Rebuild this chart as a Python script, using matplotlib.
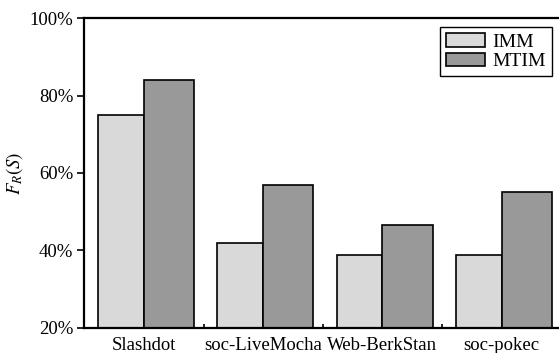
import numpy as np
import matplotlib.pyplot as plt
from matplotlib.ticker import FuncFormatter

plt.rcParams['font.family'] = ['Liberation Serif', 'DejaVu Serif']
plt.rcParams['mathtext.fontset'] = 'stix'

# datasets and F_R(S) values in percent
datasets = ['Slashdot', 'soc-LiveMocha', 'Web-BerkStan', 'soc-pokec']
imm = [75.0, 42.0, 38.7, 38.7]
mtim = [84.0, 56.8, 46.6, 55.0]

x = np.arange(len(datasets))

fig = plt.figure(figsize=(5.59, 3.53), dpi=100)
ax = fig.add_axes([0.1508, 0.0717, 0.8535, 0.8765])

ax.bar(x, imm, width=-0.385, align='edge', color='#d9d9d9',
       edgecolor='black', linewidth=1.2, label='IMM', zorder=2)
ax.bar(x, mtim, width=0.42, align='edge', color='#999999',
       edgecolor='black', linewidth=1.2, label='MTIM', zorder=2)

ax.set_xlim(-0.5, 3.5)
ax.set_ylim(20, 100)
ax.set_yticks([20, 40, 60, 80, 100])
ax.yaxis.set_major_formatter(FuncFormatter(lambda v, p: f'{v:.0f}%'))
ax.set_xticks(x)
ax.set_xticklabels(datasets)
ax.set_xticks(x[:-1] + 0.5, minor=True)

ax.tick_params(axis='y', direction='out', length=5, width=1.2, pad=3, labelsize=13.5)
ax.tick_params(axis='x', which='major', length=0, pad=7, labelsize=13.5)
ax.tick_params(axis='x', which='minor', direction='in', length=3, width=1.2)

for s in ax.spines.values():
    s.set_linewidth(1.6)

ax.set_ylabel('$F_R(S)$', fontsize=13.5)
ax.yaxis.set_label_coords(-0.125, 0.5)

leg = ax.legend(loc='upper right', bbox_to_anchor=(0.98, 0.971), fontsize=14,
                fancybox=False, edgecolor='black', framealpha=1,
                handlelength=2.0, handleheight=0.7, handletextpad=0.4,
                labelspacing=0.1, borderpad=0.3, borderaxespad=0)
leg.get_frame().set_linewidth(1.0)

fig.savefig('out.png', dpi=100)
